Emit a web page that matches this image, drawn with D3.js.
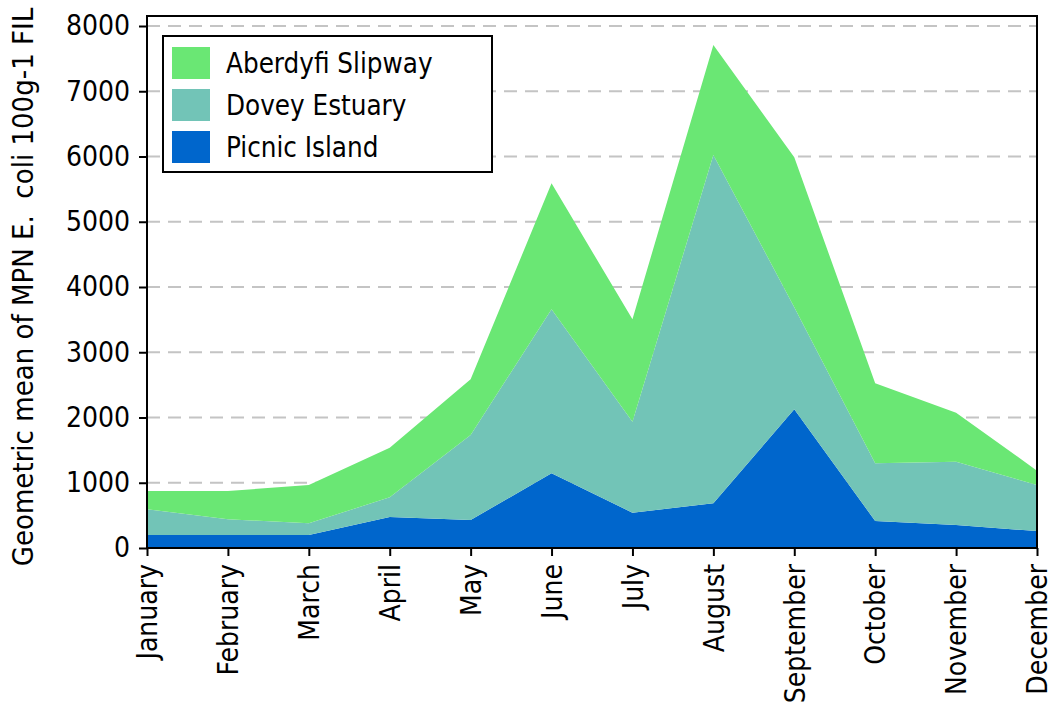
<!DOCTYPE html>
<html>
<head>
<meta charset="utf-8">
<script src="https://cdn.jsdelivr.net/npm/d3@7"></script>
<style>
  html, body { margin: 0; padding: 0; background: #ffffff; }
  svg { display: block; }
  text { font-family: "DejaVu Sans Condensed", "DejaVu Sans", sans-serif; fill: #000; }
</style>
</head>
<body>
<svg id="chart" width="1051" height="705"></svg>
<script>
const months = ["January","February","March","April","May","June","July","August","September","October","November","December"];
const seriesNames = ["Picnic Island","Dovey Estuary","Aberdyfi Slipway"];
const picnicIsland = [200, 200, 200, 475, 430, 1145, 541, 685, 2126, 414, 352, 260];
const doveyEstuary = [394, 240, 178, 302, 1302, 2513, 1395, 5338, 1564, 884, 971, 706];
const aberdyfiSlipway = [281, 434, 588, 760, 853, 1931, 1569, 1686, 2297, 1226, 751, 219];
const yTicks = [0, 1000, 2000, 3000, 4000, 5000, 6000, 7000, 8000];
const colors = {"Picnic Island": "#0066cc", "Dovey Estuary": "#72c4b7", "Aberdyfi Slipway": "#6ae774"};
const legendOrder = ["Aberdyfi Slipway","Dovey Estuary","Picnic Island"];
const yTitle = "Geometric mean of MPN E.  coli 100g-1 FIL";

const table = months.map((m, i) => ({
  month: m,
  "Picnic Island": picnicIsland[i],
  "Dovey Estuary": doveyEstuary[i],
  "Aberdyfi Slipway": aberdyfiSlipway[i]
}));

const svg = d3.select("#chart");
const mLeft = 147, mRight = 1037, mTop = 16, mBottom = 548;
const x = d3.scalePoint().domain(months).range([mLeft, mRight]);
const y = d3.scaleLinear().domain([0, 8000]).range([mBottom, 26]);

// gridlines
svg.append("g").selectAll("line").data(yTicks.filter(d => d > 0)).join("line")
  .attr("x1", mLeft).attr("x2", mRight)
  .attr("y1", d => y(d)).attr("y2", d => y(d))
  .attr("stroke", "#c4c4c4").attr("stroke-width", 2).attr("stroke-dasharray", "13,8");

// stacked areas
const stack = d3.stack().keys(seriesNames);
const layers = stack(table);
const area = d3.area()
  .x(d => x(d.data.month))
  .y0(d => y(d[0]))
  .y1(d => y(d[1]))
  .curve(d3.curveLinear);
svg.append("g").selectAll("path").data(layers).join("path")
  .attr("d", area)
  .attr("fill", d => colors[d.key]);

// frame
svg.append("rect").attr("x", mLeft).attr("y", mTop).attr("width", mRight - mLeft).attr("height", mBottom - mTop)
  .attr("fill", "none").attr("stroke", "#000").attr("stroke-width", 2);

// y axis
const yAxis = svg.append("g").attr("transform", `translate(${mLeft},0)`)
  .call(d3.axisLeft(y).tickValues(yTicks).tickFormat(d3.format("d")).tickSize(8).tickPadding(9));
yAxis.select(".domain").remove();
yAxis.selectAll(".tick line").attr("stroke", "#000").attr("stroke-width", 2);
yAxis.selectAll(".tick text").attr("font-size", 28).attr("font-family", "DejaVu Sans Condensed");

// x axis
const xAxis = svg.append("g").attr("transform", `translate(0,${mBottom})`)
  .call(d3.axisBottom(x).tickSize(8).tickPadding(9));
xAxis.select(".domain").remove();
xAxis.selectAll(".tick line").attr("stroke", "#000").attr("stroke-width", 2);
xAxis.selectAll(".tick text")
  .attr("font-size", 28).attr("font-family", "DejaVu Sans Condensed")
  .attr("transform", "rotate(-90)")
  .attr("text-anchor", "end")
  .attr("x", -16).attr("y", 0).attr("dy", "0.35em");

// y title
svg.append("text")
  .attr("transform", "translate(33,287) rotate(-90)")
  .attr("text-anchor", "middle")
  .attr("font-size", 29)
  .style("white-space", "pre")
  .text(yTitle);

// legend
const lg = svg.append("g");
lg.append("rect").attr("x", 163).attr("y", 36).attr("width", 329).attr("height", 136)
  .attr("fill", "#fff").attr("stroke", "#000").attr("stroke-width", 2);
legendOrder.forEach((name, i) => {
  lg.append("rect").attr("x", 172).attr("y", 47 + i * 42).attr("width", 38).attr("height", 32)
    .attr("fill", colors[name]);
  lg.append("text").attr("x", 226).attr("y", 73 + i * 42).attr("font-size", 27.5).text(name);
});
</script>
</body>
</html>
